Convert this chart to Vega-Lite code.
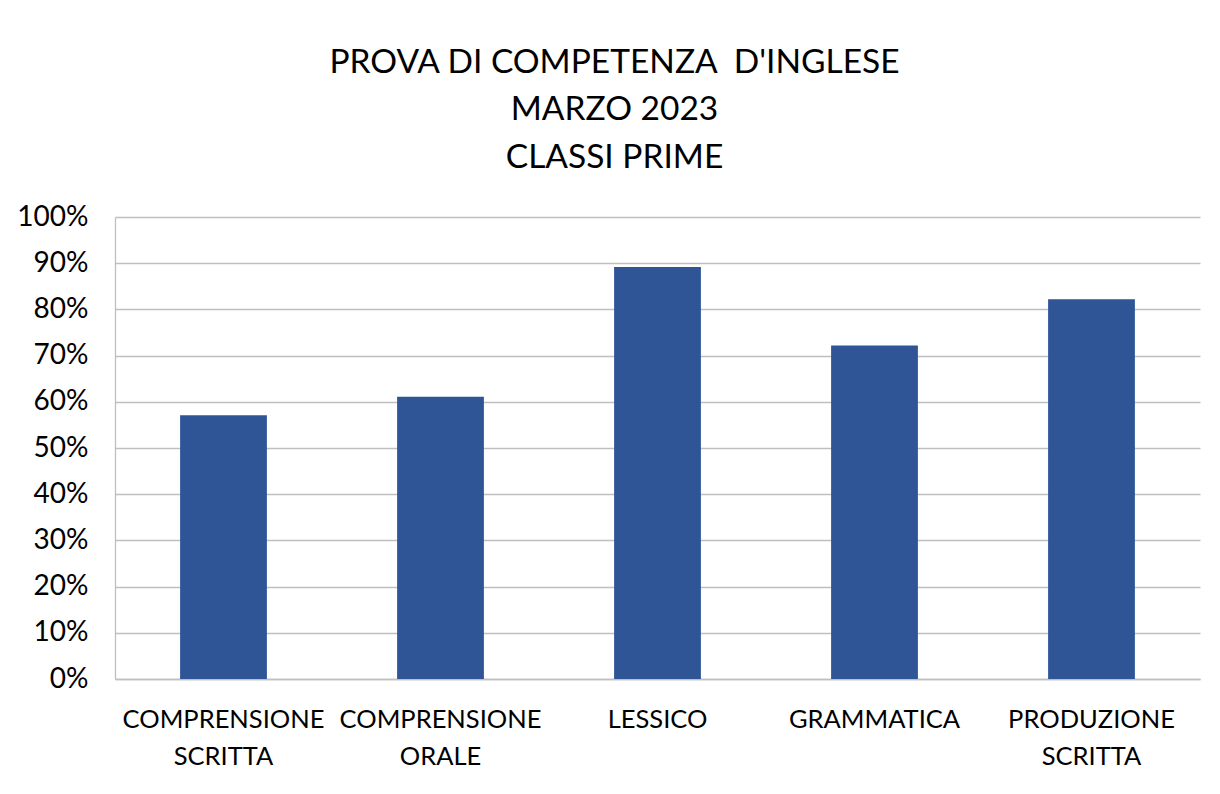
{
  "$schema": "https://vega.github.io/schema/vega-lite/v6.json",
  "autosize": "none",
  "width": 1085,
  "height": 462,
  "padding": {"left": 115, "top": 217, "right": 20, "bottom": 115},
  "background": "white",
  "title": {
    "text": ["PROVA DI COMPETENZA\u00a0 D'INGLESE", "MARZO 2023", "CLASSI PRIME"],
    "font": "Lato",
    "fontSize": 33.5,
    "fontWeight": "normal",
    "color": "#000000",
    "lineHeight": 47.5,
    "anchor": "middle",
    "dx": -43,
    "offset": 28
  },
  "data": {
    "values": [
      {"categoria": "COMPRENSIONE SCRITTA", "valore": 0.571},
      {"categoria": "COMPRENSIONE ORALE", "valore": 0.611},
      {"categoria": "LESSICO", "valore": 0.892},
      {"categoria": "GRAMMATICA", "valore": 0.722},
      {"categoria": "PRODUZIONE SCRITTA", "valore": 0.822}
    ]
  },
  "mark": {"type": "bar", "color": "#2f5597"},
  "encoding": {
    "x": {
      "field": "categoria",
      "type": "nominal",
      "sort": null,
      "scale": {"paddingInner": 0.6, "paddingOuter": 0.3},
      "axis": {
        "title": null,
        "labelAngle": 0,
        "labelExpr": "split(datum.label, ' ')",
        "labelFont": "Lato",
        "labelFontSize": 25.5,
        "labelColor": "#000000",
        "labelLineHeight": 37,
        "labelPadding": 28,
        "labelLimit": 0,
        "labelOverlap": false,
        "ticks": false,
        "domainColor": "#bfbfbf",
        "domainWidth": 1.3,
        "labelBaseline": "top"
      }
    },
    "y": {
      "field": "valore",
      "type": "quantitative",
      "scale": {"domain": [0, 1], "nice": false},
      "axis": {
        "title": null,
        "format": ".0%",
        "values": [0, 0.1, 0.2, 0.3, 0.4, 0.5, 0.6, 0.7, 0.8, 0.9, 1],
        "labelFont": "Lato",
        "labelFontSize": 28,
        "labelColor": "#000000",
        "labelPadding": 27,
        "ticks": false,
        "domain": true,
        "domainColor": "#bfbfbf",
        "domainWidth": 1.3,
        "grid": true,
        "gridColor": "#bfbfbf",
        "gridWidth": 1.3
      }
    }
  },
  "config": {"view": {"stroke": null}}
}
